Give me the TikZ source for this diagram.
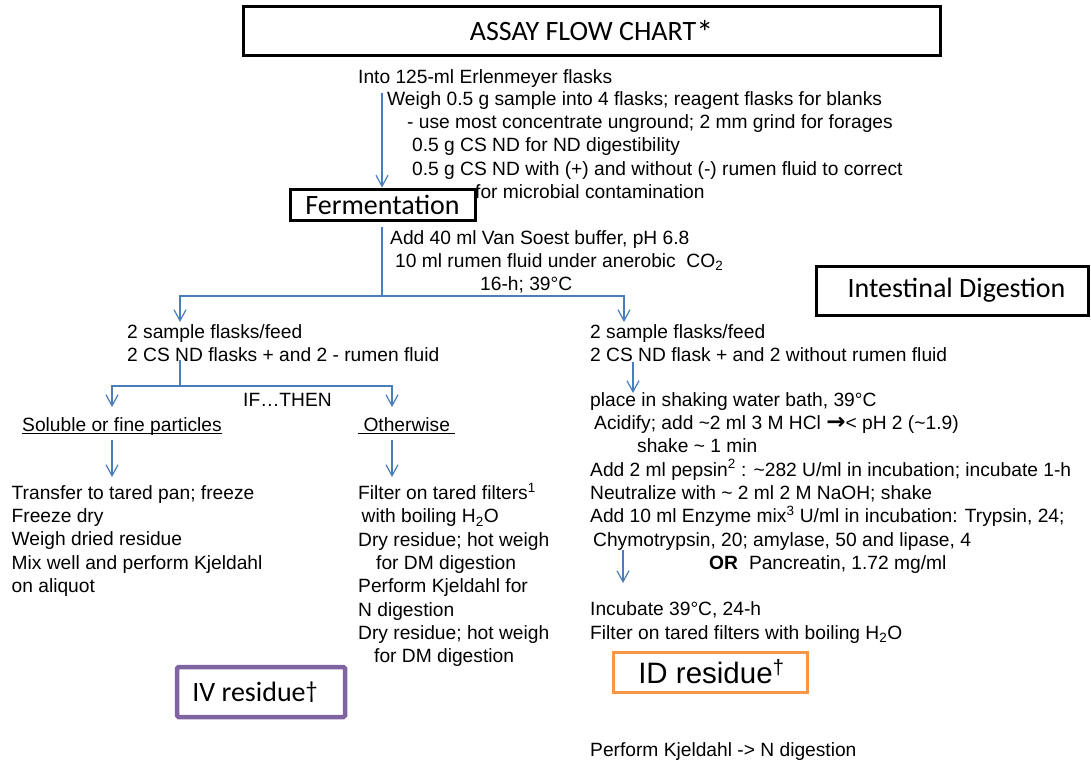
\documentclass[tikz,border=0pt]{standalone}
\usepackage{fontspec}
\setmainfont{Liberation Sans}
\newfontfamily\calfont{Carlito}
\newfontfamily\arrfont{DejaVu Sans}
\usetikzlibrary{arrows.meta}
\definecolor{lblue}{RGB}{74,126,187}
\definecolor{ivpurple}{RGB}{128,100,162}
\definecolor{idorange}{RGB}{247,150,70}
\newcommand\myul[1]{\setbox0\hbox{#1}\rlap{\rule[-2.6pt]{\wd0}{1.2pt}}\box0}
\begin{document}
\begin{tikzpicture}[x=1pt,y=-1pt,
 txt/.style={inner sep=0pt, anchor=north west, align=left, font=\fontsize{19.2}{23.3}\selectfont},
 blackbox/.style={draw=black, line width=3pt, inner sep=0pt, font=\calfont\fontsize{28}{30}\selectfont},
 conn/.style={draw=lblue, line width=1.2pt},
 arr/.style={conn, -{Straight Barb[length=11pt,width=12pt]}}]
\useasboundingbox (0,0) rectangle (1091,762);
\fill[white] (0,0) rectangle (1091,762);

% boxes
\node[blackbox, minimum width=697pt, minimum height=49pt] (title) at (591.5,31.5) {ASSAY FLOW CHART\raisebox{-4pt}[0pt][0pt]{\fontsize{34}{34}\selectfont *}};
\node[blackbox, minimum width=185pt, minimum height=31pt] (ferm) at (382.5,204.5) {Fermentation};
\node[blackbox, minimum width=272pt, minimum height=49pt] (intest) at (952,290.5) {\hspace*{9pt}Intestinal Digestion};
\node[draw=ivpurple, line width=4.5pt, rounded corners=1.5pt, minimum width=168pt, minimum height=50pt, inner sep=0pt, font=\calfont\fontsize{28}{30}\selectfont] (iv) at (261,692) {IV residue\raisebox{3pt}{\fontsize{24}{24}\selectfont †}\hspace*{12pt}};
\node[draw=idorange, line width=3pt, minimum width=194pt, minimum height=40pt, inner sep=0pt, font=\fontsize{29.5}{31}\selectfont] (id) at (710,672) {\hspace*{3pt}ID residue\textsuperscript{†}};

% texts
\node[txt] (into) at (358,66.7) {\strut Into 125-ml Erlenmeyer flasks};
\node[txt] (weigh) at (387,88.7) {\strut Weigh 0.5 g sample into 4 flasks; reagent flasks for blanks\\\hspace*{20pt}- use most concentrate unground; 2 mm grind for forages\\\hspace*{25pt}0.5 g CS ND for ND digestibility\\\hspace*{25pt}0.5 g CS ND with (+) and without (-) rumen fluid to correct\\\hspace*{88pt}for microbial contamination};
\node[txt] (add) at (390,227.7) {\strut Add 40 ml Van Soest buffer, pH 6.8\\\hspace*{5pt}10 ml rumen fluid under anerobic\ \ CO\textsubscript{2}\\\hspace*{90pt}16-h; 39°C};
\node[txt] (left2) at (127,321.7) {\strut 2 sample flasks/feed\\2 CS ND flasks + and 2 - rumen fluid};
\node[txt] (right2) at (590,321.7) {\strut 2 sample flasks/feed\\2 CS ND flask + and 2 without rumen fluid};
\node[txt] (ifthen) at (243,389.7) {\strut IF…THEN};
\node[txt] (sol) at (22,414.7) {\strut\myul{Soluble or fine particles}};
\node[txt] (oth) at (358,414.7) {\strut\myul{\ Otherwise\ }};
\node[txt] (trans) at (11.5,482.7) {\strut Transfer to tared pan; freeze\\Freeze dry\\Weigh dried residue\\Mix well and perform Kjeldahl\\on aliquot};
\node[txt] (filt) at (358,482.7) {\strut Filter on tared filters\textsuperscript{1}\\\hspace*{3.5pt}with boiling H\textsubscript{2}O\\Dry residue; hot weigh\\\hspace*{18pt}for DM digestion\\Perform Kjeldahl for\\N digestion\\Dry residue; hot weigh\\\hspace*{16pt}for DM digestion};
\node[txt] (place) at (590,389.7) {\strut place in shaking water bath, 39°C\\\hspace*{4pt}Acidify; add \textasciitilde{}2 ml 3 M HCl {\arrfont\bfseries\fontsize{23}{23}\selectfont →}< pH 2 (\textasciitilde{}1.9)\\\hspace*{47pt}shake \textasciitilde{} 1 min\\Add 2 ml pepsin\textsuperscript{2} : \textasciitilde{}282 U/ml in incubation; incubate 1-h\\Neutralize with \textasciitilde{} 2 ml 2 M NaOH; shake\\Add 10 ml Enzyme mix\textsuperscript{3} U/ml in incubation: Trypsin, 24;\\\hspace*{3pt}Chymotrypsin, 20; amylase, 50 and lipase, 4\\\hspace*{119pt}\textbf{OR}\hspace*{11pt}Pancreatin, 1.72 mg/ml};
\node[txt] (incub) at (590,599.2) {\strut Incubate 39°C, 24-h\\Filter on tared filters with boiling H\textsubscript{2}O};
\node[txt] (kjel) at (590,739.7) {\strut Perform Kjeldahl -> N digestion};

% connectors
\coordinate (a0) at (382,93);
\draw[arr] (a0) -- (a0 |- ferm.north);
\coordinate (b0) at (382,227);
\coordinate (bj) at (382,296);
\coordinate (bl) at (180,296);
\coordinate (br) at (624,296);
\coordinate (bl1) at (180,322);
\coordinate (br1) at (624,322);
\draw[conn] (b0) -- (bj);
\draw[arr] (bj) -- (bl) -- (bl1);
\draw[arr] (bj) -- (br) -- (br1);
\coordinate (c0) at (180,360);
\coordinate (cj) at (180,386);
\coordinate (cl) at (112,386);
\coordinate (cr) at (392,386);
\coordinate (cl1) at (112,407);
\coordinate (cr1) at (392,407);
\draw[conn] (c0) -- (cj);
\draw[arr] (cj) -- (cl) -- (cl1);
\draw[arr] (cj) -- (cr) -- (cr1);
\coordinate (d0) at (112,440);
\coordinate (d1) at (112,477);
\coordinate (e0) at (392,440);
\coordinate (e1) at (392,477);
\draw[arr] (d0) -- (d1);
\draw[arr] (e0) -- (e1);
\coordinate (f0) at (633,362);
\coordinate (f1) at (633,393);
\draw[arr] (f0) -- (f1);
\coordinate (g0) at (623,550);
\coordinate (g1) at (623,583);
\draw[arr] (g0) -- (g1);
\end{tikzpicture}
\end{document}
